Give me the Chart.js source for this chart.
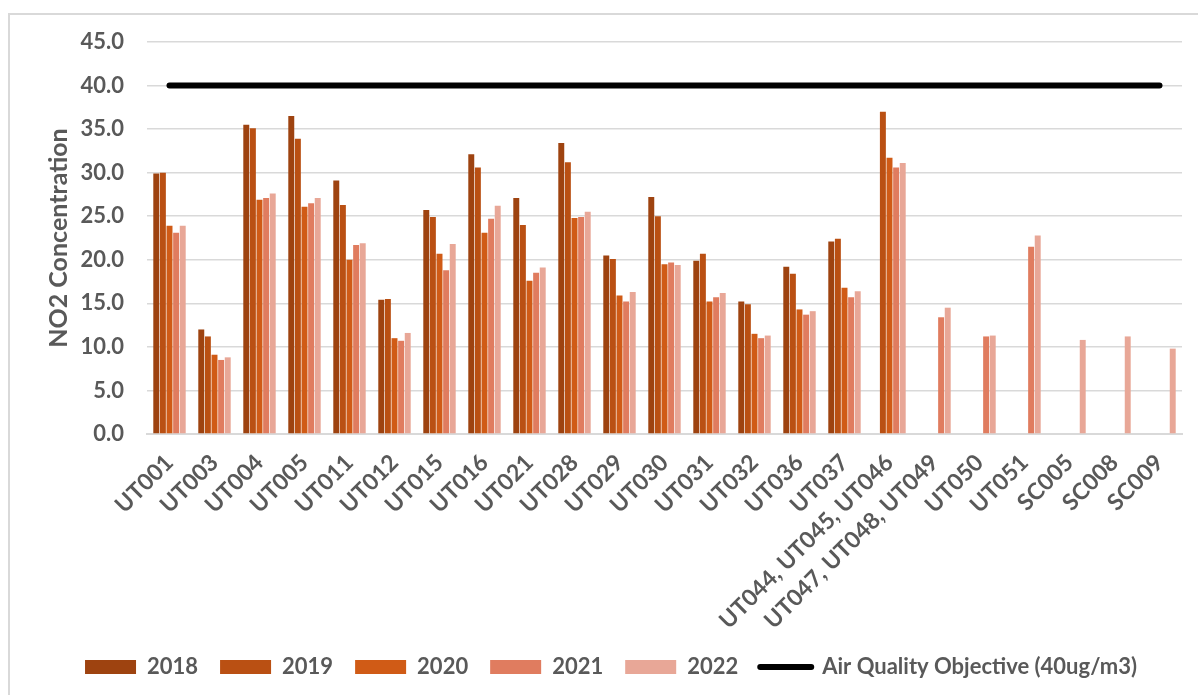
<!DOCTYPE html>
<html>
<head>
<meta charset="utf-8">
<script src="https://cdn.jsdelivr.net/npm/chart.js@4.4.1/dist/chart.umd.min.js"></script>
<style>
  html, body { margin: 0; padding: 0; background: #fff; overflow: hidden; }
  #wrap { position: relative; width: 1198px; height: 695px; }
  #frame { position: absolute; left: 8px; top: 13px; width: 1220px; height: 720px; border: 2px solid #d9d9d9; box-sizing: border-box; }
  #cv { position: absolute; left: 0; top: 0; }
</style>
</head>
<body>
<div id="wrap">
  <div id="frame"></div>
  <canvas id="cv" width="1198" height="695"></canvas>
</div>
<script>
const categories = ["UT001","UT003","UT004","UT005","UT011","UT012","UT015","UT016","UT021","UT028","UT029","UT030","UT031","UT032","UT036","UT037","UT044, UT045, UT046","UT047, UT048, UT049","UT050","UT051","SC005","SC008","SC009"];

const y2018 = [29.9, 12.0, 35.5, 36.5, 29.1, 15.4, 25.7, 32.1, 27.1, 33.4, 20.5, 27.2, 19.9, 15.2, 19.2, 22.1, null, null, null, null, null, null, null];
const y2019 = [30.0, 11.2, 35.1, 33.9, 26.3, 15.5, 24.9, 30.6, 24.0, 31.2, 20.1, 25.0, 20.7, 14.9, 18.4, 22.4, 37.0, null, null, null, null, null, null];
const y2020 = [23.9, 9.1, 26.9, 26.1, 20.0, 11.0, 20.7, 23.1, 17.6, 24.8, 15.9, 19.5, 15.2, 11.5, 14.3, 16.8, 31.7, null, null, null, null, null, null];
const y2021 = [23.1, 8.5, 27.1, 26.5, 21.7, 10.7, 18.8, 24.7, 18.5, 24.9, 15.2, 19.7, 15.7, 11.0, 13.7, 15.7, 30.6, 13.4, 11.2, 21.5, null, null, null];
const y2022 = [23.9, 8.8, 27.6, 27.1, 21.9, 11.6, 21.8, 26.2, 19.1, 25.5, 16.3, 19.4, 16.2, 11.3, 14.1, 16.4, 31.1, 14.5, 11.3, 22.8, 10.8, 11.2, 9.8];
const objective = [40, 40, 40, 40, 40, 40, 40, 40, 40, 40, 40, 40, 40, 40, 40, 40, 40, 40, 40, 40, 40, 40, 40];

const yTicks = [0, 5, 10, 15, 20, 25, 30, 35, 40, 45];

const textColor = '#595959';
const fontFamily = 'Lato, "Noto Sans", sans-serif';
const PLOT_BOTTOM = 434;
const PAD_BOTTOM = 7;

function barSet(label, data, color) {
  return {
    type: 'bar', label, data, backgroundColor: color, borderWidth: 0,
    categoryPercentage: 0.735, barPercentage: 0.9, order: 1
  };
}

new Chart(document.getElementById('cv'), {
  data: {
    labels: categories,
    datasets: [
      barSet('2018', y2018, '#9e4310'),
      barSet('2019', y2019, '#ba5013'),
      barSet('2020', y2020, '#d05b16'),
      barSet('2021', y2021, '#e07c5f'),
      barSet('2022', y2022, '#e8a797'),
      {
        type: 'line', label: 'Air Quality Objective (40ug/m3)', data: objective,
        borderColor: '#000000', backgroundColor: '#000000', borderWidth: 6,
        borderCapStyle: 'round', pointRadius: 0, pointHoverRadius: 0, order: 0, tension: 0
      }
    ]
  },
  options: {
    responsive: false,
    animation: false,
    devicePixelRatio: 1,
    layout: { padding: { left: 24, right: 0, top: 42, bottom: PAD_BOTTOM } },
    plugins: {
      tooltip: { enabled: false },
      legend: {
        position: 'bottom',
        labels: {
          usePointStyle: true,
          pointStyleWidth: 51,
          boxHeight: 14,
          padding: 22,
          color: textColor,
          font: { family: fontFamily, size: 22, weight: 'bold' },
          sort: (a, b) => a.datasetIndex - b.datasetIndex,
          generateLabels: (chart) => {
            const items = Chart.defaults.plugins.legend.labels.generateLabels(chart);
            items.forEach(it => {
              const ds = chart.data.datasets[it.datasetIndex];
              if (ds.type === 'line') {
                it.pointStyle = 'line';
                it.lineWidth = 6;
                it.strokeStyle = '#000000';
                it.lineCap = 'round';
              } else {
                it.pointStyle = 'rect';
                it.lineWidth = 0;
                it.fillStyle = ds.backgroundColor;
                it.strokeStyle = ds.backgroundColor;
              }
            });
            return items;
          }
        }
      }
    },
    scales: {
      x: {
        offset: true,
        grid: { display: false, drawTicks: false },
        border: { display: true, color: '#d9d9d9', width: 2 },
        ticks: {
          autoSkip: false, maxRotation: 45, minRotation: 45, padding: 15,
          color: textColor, font: { family: fontFamily, size: 23, weight: 'bold' }
        },
        afterFit: (s) => {
          const lh = s.chart.legend ? s.chart.legend.height : 60;
          s.height = s.chart.height - PAD_BOTTOM - lh - PLOT_BOTTOM;
          s.paddingLeft = 0;
          s.paddingRight = 0;
        }
      },
      y: {
        min: 0, max: 45,
        afterBuildTicks: (s) => { s.ticks = yTicks.map(v => ({ value: v })); },
        grid: { color: '#d9d9d9', lineWidth: 1.5, drawTicks: false },
        border: { display: false },
        ticks: {
          padding: 23, color: textColor,
          font: { family: fontFamily, size: 22, weight: 'bold' },
          callback: (v) => Number(v).toFixed(1)
        },
        title: {
          display: true, text: 'NO2 Concentration', color: textColor,
          font: { family: fontFamily, size: 25, weight: 'bold' },
          padding: { top: 20, bottom: 0 }
        },
        afterFit: (s) => { s.width = 123; }
      },
      yR: {
        position: 'right', display: true,
        grid: { display: false, drawTicks: false },
        border: { display: false },
        ticks: { display: false },
        afterFit: (s) => { s.width = 16; }
      }
    }
  }
});
</script>
</body>
</html>
